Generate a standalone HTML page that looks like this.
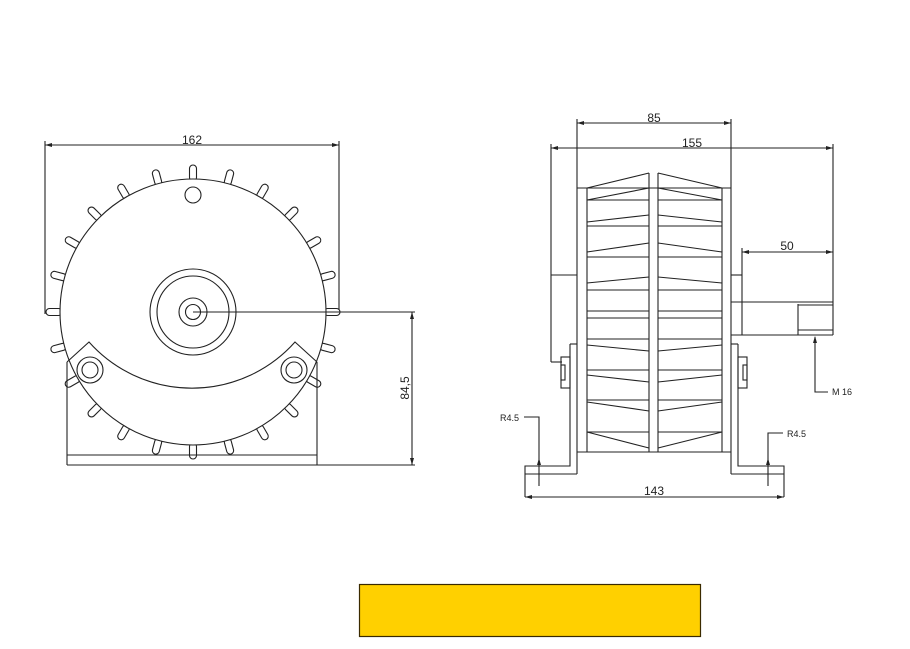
<!DOCTYPE html>
<html><head><meta charset="utf-8"><style>
html,body{margin:0;padding:0;background:#fff;}
svg{display:block;}
text{font-family:"Liberation Sans",sans-serif;fill:#222;}
</style></head><body>
<svg width="910" height="649" viewBox="0 0 910 649" xmlns="http://www.w3.org/2000/svg">
<defs>
<rect id="fin" x="189.5" y="165" width="7" height="16" rx="3.5" fill="#fff" stroke="#222" stroke-width="1.1"/>
</defs>
<g fill="none" stroke="#222" stroke-width="1.1">
<!-- LEFT VIEW -->
<line x1="45" y1="145" x2="339" y2="145"/>
<line x1="45" y1="141" x2="45" y2="314"/>
<line x1="339" y1="141" x2="339" y2="314"/>
<use href="#fin" transform="rotate(0 193 312)"/>
<use href="#fin" transform="rotate(15 193 312)"/>
<use href="#fin" transform="rotate(30 193 312)"/>
<use href="#fin" transform="rotate(45 193 312)"/>
<use href="#fin" transform="rotate(60 193 312)"/>
<use href="#fin" transform="rotate(75 193 312)"/>
<use href="#fin" transform="rotate(90 193 312)"/>
<use href="#fin" transform="rotate(105 193 312)"/>
<use href="#fin" transform="rotate(120 193 312)"/>
<use href="#fin" transform="rotate(135 193 312)"/>
<use href="#fin" transform="rotate(150 193 312)"/>
<use href="#fin" transform="rotate(165 193 312)"/>
<use href="#fin" transform="rotate(180 193 312)"/>
<use href="#fin" transform="rotate(195 193 312)"/>
<use href="#fin" transform="rotate(210 193 312)"/>
<use href="#fin" transform="rotate(225 193 312)"/>
<use href="#fin" transform="rotate(240 193 312)"/>
<use href="#fin" transform="rotate(255 193 312)"/>
<use href="#fin" transform="rotate(270 193 312)"/>
<use href="#fin" transform="rotate(285 193 312)"/>
<use href="#fin" transform="rotate(300 193 312)"/>
<use href="#fin" transform="rotate(315 193 312)"/>
<use href="#fin" transform="rotate(330 193 312)"/>
<use href="#fin" transform="rotate(345 193 312)"/>
<circle cx="193" cy="312" r="133" fill="#fff"/>
<circle cx="193" cy="195" r="8"/>
<circle cx="193" cy="312" r="43"/>
<circle cx="193" cy="312" r="36"/>
<circle cx="193" cy="312" r="14"/>
<circle cx="193" cy="312" r="7.5"/>
<!-- bracket -->
<path d="M67 362 L89 342 A138 138 0 0 0 295 342 L317 362"/>
<line x1="67" y1="362" x2="67" y2="465"/>
<line x1="317" y1="362" x2="317" y2="465"/>
<line x1="67" y1="455" x2="317" y2="455"/>
<line x1="67" y1="465" x2="317" y2="465"/>
<circle cx="90" cy="370" r="13" fill="#fff"/>
<circle cx="90" cy="370" r="8"/>
<circle cx="294" cy="370" r="13" fill="#fff"/>
<circle cx="294" cy="370" r="8"/>
<!-- 84,5 dim -->
<line x1="193" y1="312" x2="415" y2="312"/>
<line x1="317" y1="465" x2="415" y2="465"/>
<line x1="412" y1="312" x2="412" y2="465"/>

<!-- RIGHT VIEW -->
<line x1="577" y1="123" x2="731" y2="123"/>
<line x1="551" y1="148" x2="833" y2="148"/>
<line x1="577" y1="119" x2="577" y2="474"/>
<line x1="731" y1="119" x2="731" y2="474"/>
<line x1="551" y1="144" x2="551" y2="362"/>
<line x1="551" y1="275" x2="577" y2="275"/>
<line x1="551" y1="362" x2="562" y2="362"/>
<line x1="833" y1="144" x2="833" y2="335"/>
<line x1="577" y1="188" x2="731" y2="188"/>
<line x1="577" y1="452" x2="731" y2="452"/>
<line x1="587" y1="188" x2="587" y2="452"/>
<line x1="649" y1="173" x2="649" y2="452"/>
<line x1="658" y1="173" x2="658" y2="452"/>
<line x1="722" y1="188" x2="722" y2="452"/>
<line x1="587" y1="188" x2="649" y2="173"/>
<line x1="658" y1="173" x2="722" y2="188"/>
<!-- fins left -->
<line x1="587" y1="200" x2="649" y2="188"/><line x1="587" y1="200" x2="649" y2="200"/>
<line x1="587" y1="222" x2="649" y2="215"/><line x1="587" y1="226" x2="649" y2="226"/>
<line x1="587" y1="252" x2="649" y2="243"/><line x1="587" y1="257" x2="649" y2="257"/>
<line x1="587" y1="283" x2="649" y2="277"/><line x1="587" y1="290" x2="649" y2="290"/>
<line x1="587" y1="311" x2="649" y2="311"/><line x1="587" y1="318" x2="649" y2="318"/>
<line x1="587" y1="339" x2="649" y2="339"/><line x1="587" y1="345" x2="649" y2="351"/>
<line x1="587" y1="370" x2="649" y2="370"/><line x1="587" y1="375" x2="649" y2="382"/>
<line x1="587" y1="400" x2="649" y2="400"/><line x1="587" y1="402" x2="649" y2="411"/>
<line x1="587" y1="432" x2="649" y2="432"/><line x1="587" y1="432" x2="649" y2="448"/>
<!-- fins right -->
<line x1="722" y1="200" x2="658" y2="188"/><line x1="722" y1="200" x2="658" y2="200"/>
<line x1="722" y1="222" x2="658" y2="215"/><line x1="722" y1="226" x2="658" y2="226"/>
<line x1="722" y1="252" x2="658" y2="243"/><line x1="722" y1="257" x2="658" y2="257"/>
<line x1="722" y1="283" x2="658" y2="277"/><line x1="722" y1="290" x2="658" y2="290"/>
<line x1="722" y1="311" x2="658" y2="311"/><line x1="722" y1="318" x2="658" y2="318"/>
<line x1="722" y1="339" x2="658" y2="339"/><line x1="722" y1="345" x2="658" y2="351"/>
<line x1="722" y1="370" x2="658" y2="370"/><line x1="722" y1="375" x2="658" y2="382"/>
<line x1="722" y1="400" x2="658" y2="400"/><line x1="722" y1="402" x2="658" y2="411"/>
<line x1="722" y1="432" x2="658" y2="432"/><line x1="722" y1="432" x2="658" y2="448"/>
<!-- shaft -->
<line x1="742" y1="252" x2="833" y2="252"/>
<line x1="742" y1="248" x2="742" y2="335"/>
<line x1="731" y1="275" x2="742" y2="275"/>
<line x1="731" y1="302" x2="833" y2="302"/>
<line x1="731" y1="335" x2="833" y2="335"/>
<line x1="798" y1="304" x2="798" y2="335"/>
<line x1="798" y1="305" x2="833" y2="305"/>
<line x1="798" y1="330" x2="833" y2="330"/>
<polyline points="815,337 815,392 828,392"/>
<!-- brackets -->
<polyline points="570,344 577,344"/>
<polyline points="570,344 570,466 525,466 525,497"/>
<polyline points="525,474 577,474"/>
<rect x="561" y="357" width="9" height="31"/>
<rect x="561" y="365" width="4" height="15"/>
<polyline points="738,344 731,344"/>
<polyline points="738,344 738,466 784,466 784,497"/>
<polyline points="731,474 784,474"/>
<rect x="738" y="357" width="9" height="31"/>
<rect x="743" y="365" width="4" height="15"/>
<polyline points="524,417 539,417 539,486"/>
<polyline points="783,433 768,433 768,486"/>
<line x1="525" y1="497" x2="784" y2="497"/>
</g>
<g fill="#222">
<path d="M45 145 l7 -2 v4z M339 145 l-7 -2 v4z"/>
<path d="M412 312 l-2 7 h4z M412 465 l-2 -7 h4z"/>
<path d="M577 123 l7 -2 v4z M731 123 l-7 -2 v4z"/>
<path d="M551 148 l7 -2 v4z M833 148 l-7 -2 v4z"/>
<path d="M742 252 l7 -2 v4z M833 252 l-7 -2 v4z"/>
<path d="M815 336 l-2 7 h4z"/>
<path d="M539 458 l-2 7 h4z M768 458 l-2 7 h4z"/>
<path d="M525 497 l7 -2 v4z M784 497 l-7 -2 v4z"/>
</g>
<text x="192" y="144" font-size="12" text-anchor="middle">162</text>
<text transform="translate(409 388) rotate(-90)" font-size="12" text-anchor="middle">84,5</text>
<text x="654" y="122" font-size="12" text-anchor="middle">85</text>
<text x="692" y="147" font-size="12" text-anchor="middle">155</text>
<text x="787" y="250" font-size="12" text-anchor="middle">50</text>
<text x="832" y="395" font-size="9">M 16</text>
<text x="500" y="421" font-size="9">R4.5</text>
<text x="787" y="437" font-size="9">R4.5</text>
<text x="654" y="495" font-size="12" text-anchor="middle">143</text>
<rect x="359.5" y="584.5" width="341" height="52" fill="#FFD000" stroke="#3a2a00" stroke-width="1.2"/>
</svg>
</body></html>
